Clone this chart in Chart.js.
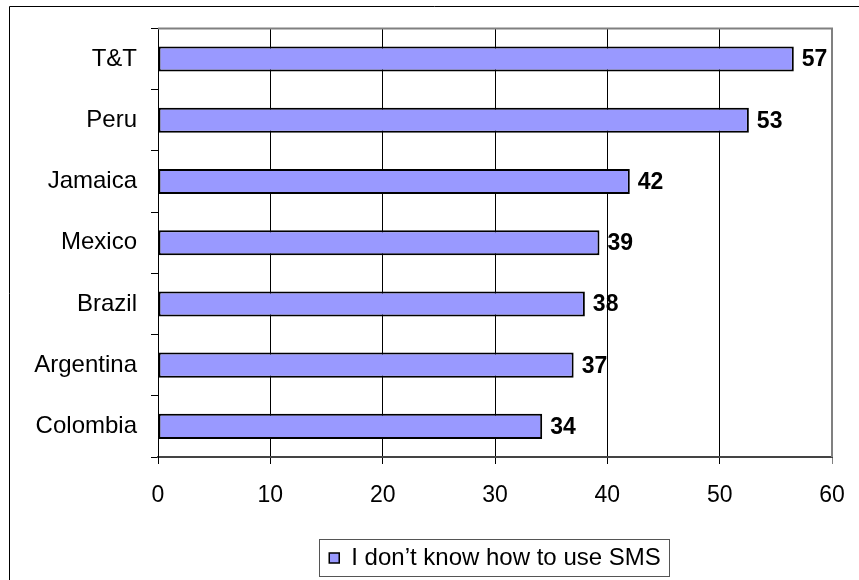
<!DOCTYPE html>
<html>
<head>
<meta charset="utf-8">
<script src="https://cdn.jsdelivr.net/npm/chart.js@4"></script>
<style>
  html, body { margin: 0; padding: 0; background: #fff; }
  #wrap { width: 859px; height: 580px; }
</style>
</head>
<body>
<div id="wrap"><canvas id="smsChart" width="859" height="580"></canvas></div>
<script>
// values (bar lengths; labels show rounded numbers)
const countries = ["T&T", "Peru", "Jamaica", "Mexico", "Brazil", "Argentina", "Colombia"];
const smsValues = [56.6, 52.6, 42, 39.3, 38, 37, 34.2];
const xTicks = [0, 10, 20, 30, 40, 50, 60];
const seriesName = "I don\u2019t know how to use SMS";

const FONT = "'Liberation Sans', Arial, sans-serif";

// white background, outer frame and the grey top edge of the plot
const framePlugin = {
    id: "frame",
    beforeDraw(chart) {
        const ctx = chart.ctx;
        ctx.save();
        ctx.fillStyle = "#fff";
        ctx.fillRect(0, 0, chart.width, chart.height);
        ctx.strokeStyle = "#000";
        ctx.lineWidth = 1;
        ctx.beginPath();
        ctx.moveTo(9.5, chart.height);
        ctx.lineTo(9.5, 6.5);
        ctx.lineTo(chart.width, 6.5);
        ctx.stroke();
        ctx.restore();
    },
    afterDraw(chart) {
        const ctx = chart.ctx;
        const a = chart.chartArea;
        ctx.save();
        ctx.strokeStyle = "#808080";
        ctx.lineWidth = 2;
        ctx.beginPath();
        ctx.moveTo(a.left, a.top);
        ctx.lineTo(a.right, a.top);
        ctx.lineTo(a.right, a.bottom);
        ctx.stroke();

        // box round the legend
        const hb = chart.legend.legendHitBoxes[0];
        if (hb) {
            ctx.strokeStyle = "#555";
            ctx.lineWidth = 1;
            const x0 = Math.round(hb.left - 10) + 0.5;
            const x1 = Math.round(hb.left + hb.width + 8) + 0.5;
            const y0 = Math.round(hb.top + hb.height / 2 - 19) + 0.5;
            const y1 = Math.round(hb.top + hb.height / 2 + 18) + 0.5;
            ctx.strokeRect(x0, y0, x1 - x0, y1 - y0);
        }
        ctx.restore();
    }
};

// value labels next to the bar ends
const valueLabels = {
    id: "valueLabels",
    afterDatasetsDraw(chart) {
        const ctx = chart.ctx;
        const meta = chart.getDatasetMeta(0);
        ctx.save();
        ctx.font = "bold 23px " + FONT;
        ctx.fillStyle = "#000";
        ctx.textBaseline = "middle";
        ctx.textAlign = "left";
        meta.data.forEach((bar, i) => {
            ctx.fillText(Math.round(smsValues[i]), bar.x + 8, bar.y + 1);
        });
        ctx.restore();
    }
};

new Chart(document.getElementById("smsChart"), {
    type: "bar",
    data: {
        labels: countries,
        datasets: [{
            label: seriesName,
            data: smsValues,
            backgroundColor: "#9999FF",
            borderColor: "#000",
            borderWidth: 2,
            borderSkipped: false,
            barPercentage: 0.41,
            categoryPercentage: 1
        }]
    },
    options: {
        indexAxis: "y",
        responsive: false,
        animation: false,
        layout: { padding: { left: 0, top: 28, right: 27, bottom: 0 } },
        scales: {
            x: {
                min: 0,
                max: 60,
                afterBuildTicks(scale) {
                    scale.ticks = xTicks.map(v => ({ value: v }));
                },
                afterFit(scale) {
                    scale.height = 70;
                    scale.paddingLeft = 0;
                    scale.paddingRight = 0;
                },
                grid: {
                    color: c => (c.tick && c.tick.value === 60) ? "#808080" : "#000",
                    lineWidth: 1,
                    tickLength: 7
                },
                border: { color: "#444", width: 2 },
                ticks: {
                    color: "#000",
                    font: { family: FONT, size: 23 },
                    padding: 18,
                    maxRotation: 0
                }
            },
            y: {
                afterFit(scale) { scale.width = 158; },
                grid: {
                    drawOnChartArea: false,
                    offset: true,
                    color: "#000",
                    tickLength: 7
                },
                border: { color: "#000", width: 1 },
                ticks: {
                    color: "#000",
                    font: { family: FONT, size: 24 },
                    padding: 14
                }
            }
        },
        plugins: {
            legend: {
                position: "bottom",
                fullSize: false,
                labels: {
                    color: "#000",
                    font: { family: FONT, size: 24 },
                    boxWidth: 10,
                    boxHeight: 10,
                    padding: 19,
                    generateLabels(chart) {
                        return [{
                            text: seriesName,
                            fillStyle: "#9999FF",
                            strokeStyle: "#000",
                            lineWidth: 1.5,
                            datasetIndex: 0
                        }];
                    }
                }
            },
            tooltip: { enabled: false }
        }
    },
    plugins: [framePlugin, valueLabels]
});
</script>
</body>
</html>
